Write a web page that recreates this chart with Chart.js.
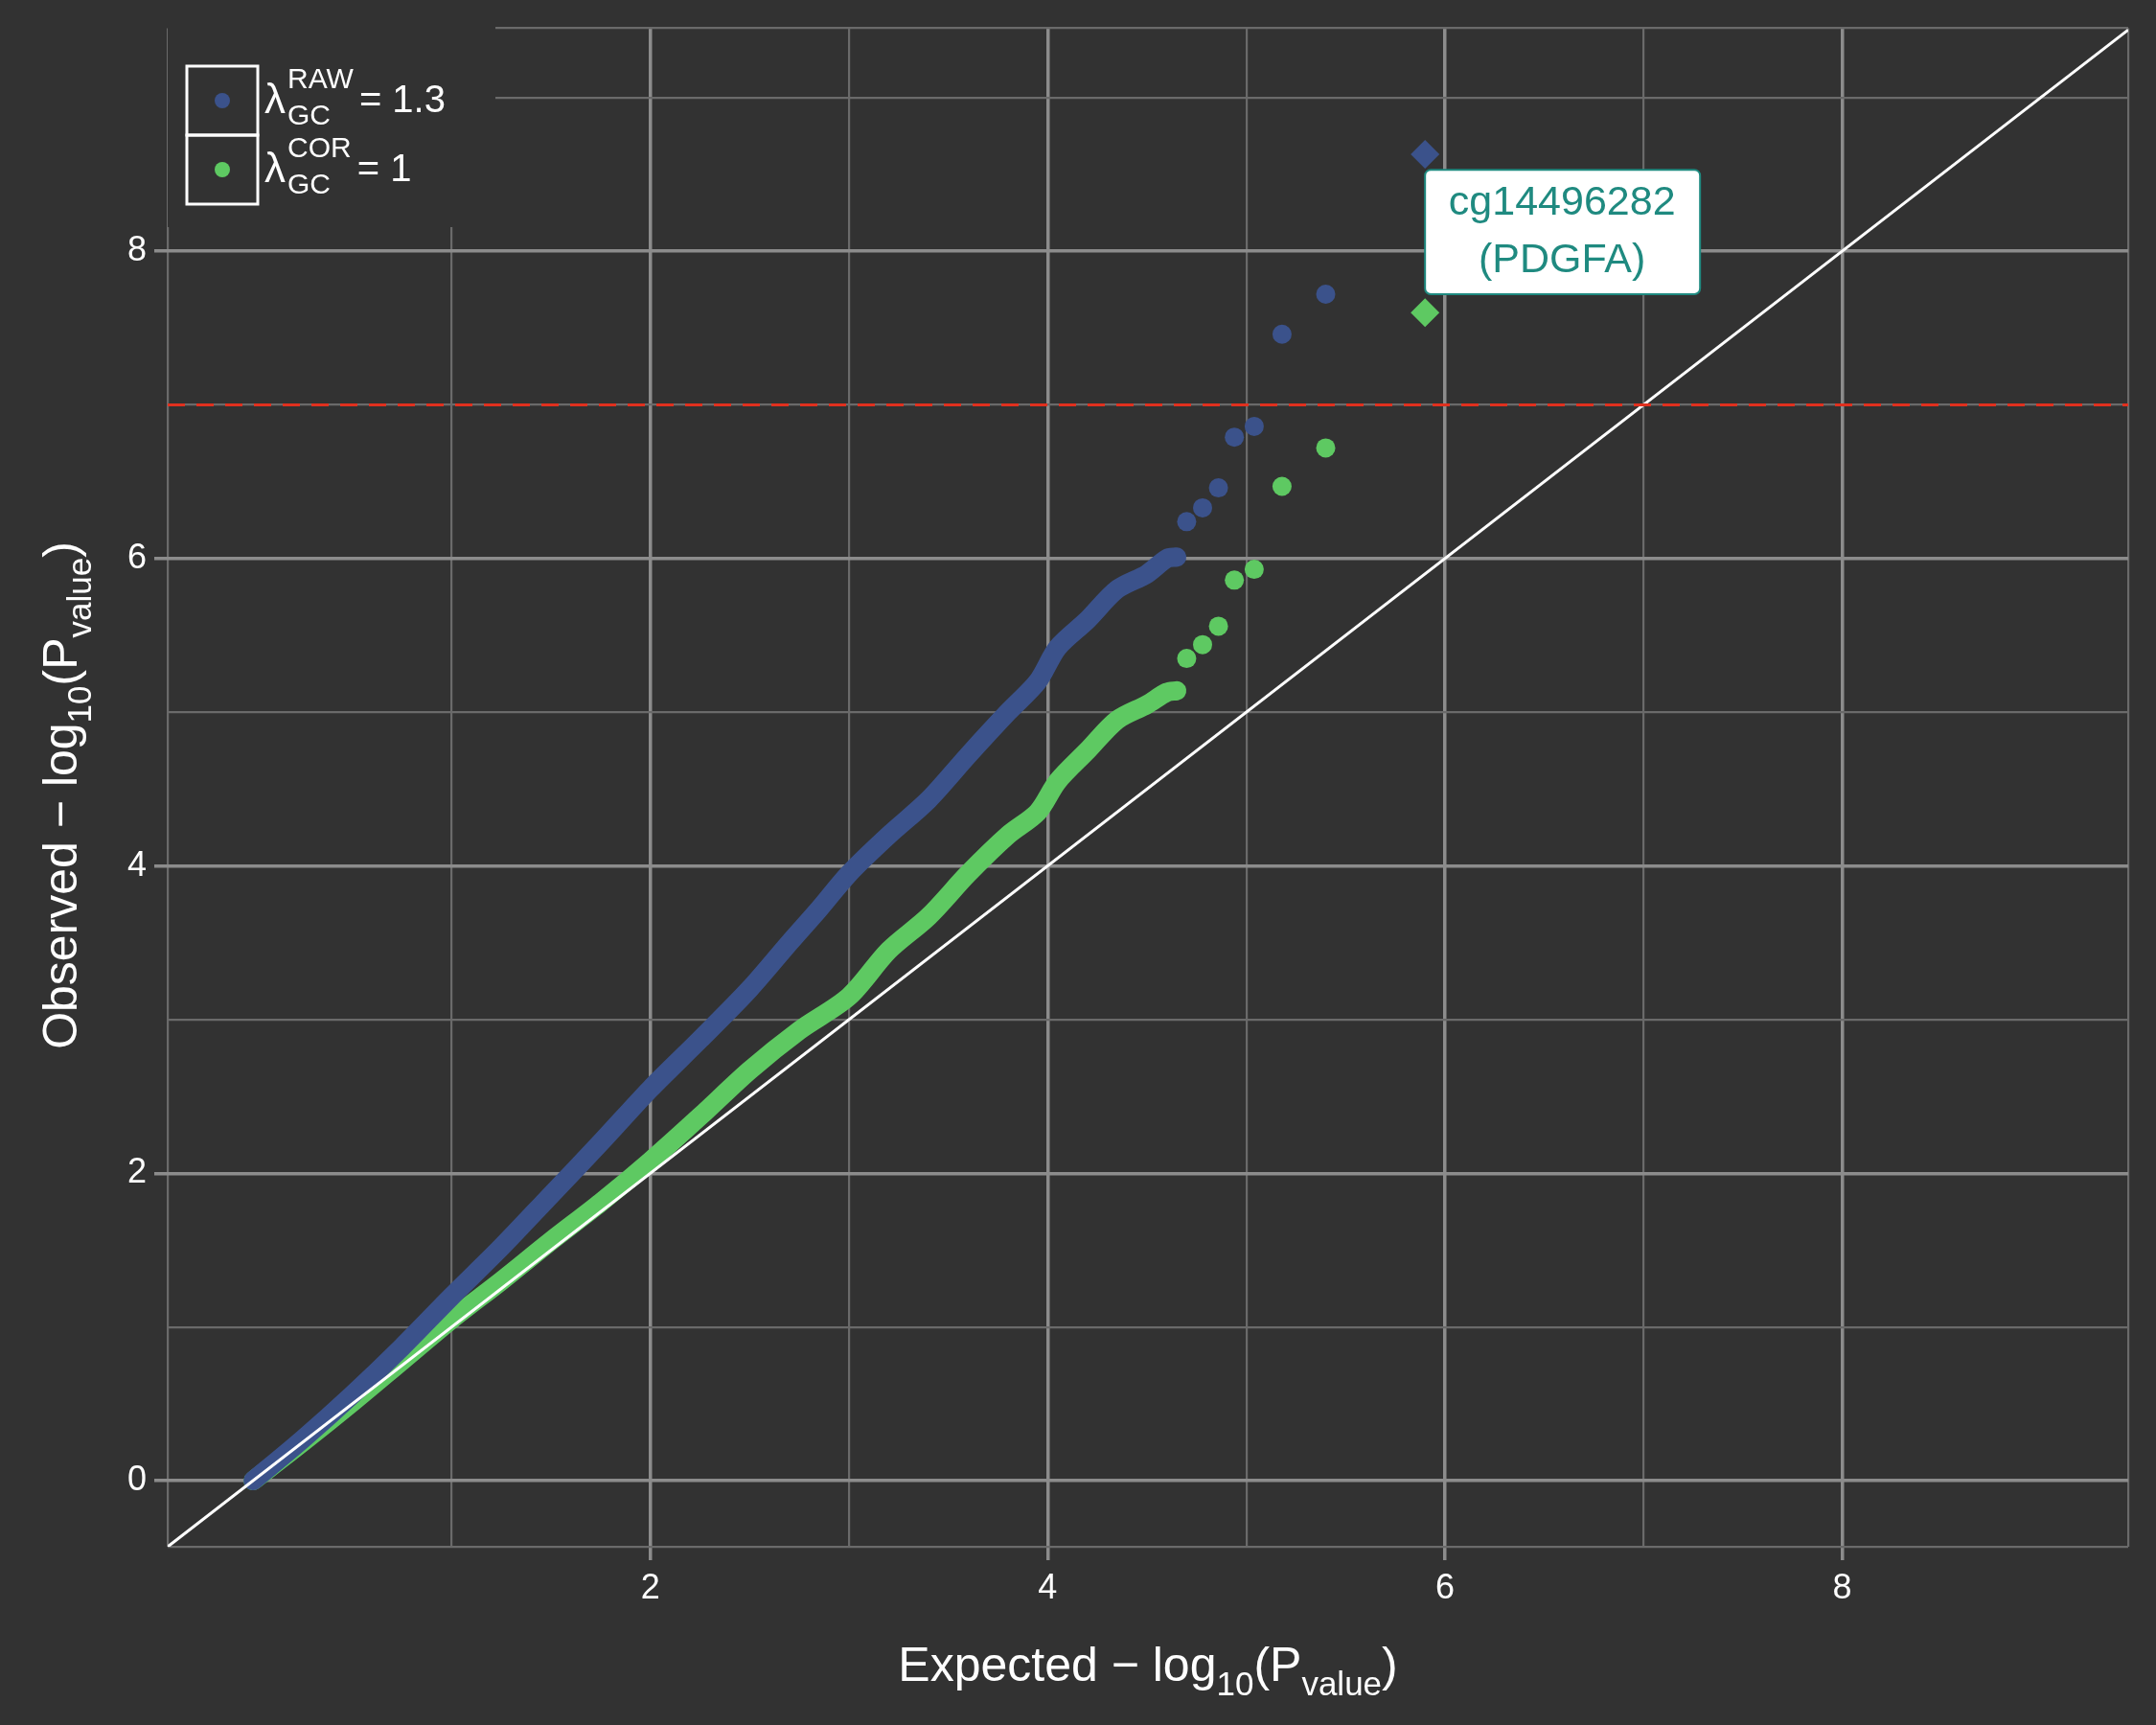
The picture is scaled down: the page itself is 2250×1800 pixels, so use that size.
<!DOCTYPE html>
<html><head><meta charset="utf-8">
<script src="https://cdn.jsdelivr.net/npm/chart.js@4.4.0/dist/chart.umd.min.js"></script>
<style>html,body{margin:0;background:#323232}canvas{display:block}</style>
</head><body>
<div style="width:2250px;height:1800px"><canvas id="c"></canvas></div>
<script>
'use strict';
// dense part of the QQ curves (expected, observed)
const rawDense = [[0,0],[0.25,0.27],[0.5,0.56],[0.75,0.87],[1,1.2],[1.25,1.52],[1.5,1.86],[1.75,2.2],[2,2.55],[2.25,2.87],[2.5,3.2],[2.7,3.5],[2.85,3.72],[3,3.95],[3.2,4.2],[3.4,4.43],[3.6,4.72],[3.8,5.0],[3.95,5.2],[4.05,5.42],[4.2,5.6],[4.35,5.8],[4.5,5.9],[4.6,6.0],[4.65,6.01]];
const corDense = [[0,0],[0.25,0.25],[0.5,0.51],[0.75,0.78],[1,1.05],[1.25,1.3],[1.5,1.56],[1.75,1.81],[2,2.08],[2.25,2.37],[2.5,2.67],[2.75,2.93],[3,3.15],[3.2,3.45],[3.4,3.67],[3.6,3.95],[3.8,4.2],[3.95,4.35],[4.05,4.55],[4.2,4.75],[4.35,4.95],[4.5,5.05],[4.6,5.13],[4.65,5.14]];
const rawTail = [[4.7,6.24],[4.78,6.33],[4.86,6.46],[4.94,6.79],[5.04,6.86],[5.18,7.46],[5.4,7.72]];
const corTail = [[4.7,5.35],[4.78,5.44],[4.86,5.56],[4.94,5.86],[5.04,5.93],[5.18,6.47],[5.4,6.72]];
const rawTop = [[5.9,8.63]];
const corTop = [[5.9,7.6]];
const xRange = [-0.43, 9.44];
const yRange = [-0.43, 9.45];
const sigLine = 7;
const probeLabel = ['cg14496282', '(PDGFA)'];

const BLUE = '#3b528b', GREEN = '#5ec962', FONT = '"Liberation Sans", Arial, sans-serif';
const pts = a => a.map(p => ({x: p[0], y: p[1]}));

// draw text parts: [text, 'n'|'sub'|'sup']
function rich(ctx, parts, x, y, size, align) {
  const w = parts.map(p => { ctx.font = (p[1] === 'n' ? size : size * 0.7) + 'px ' + FONT; return ctx.measureText(p[0]).width; });
  const total = w.reduce((a, b) => a + b, 0);
  let cx = align === 'center' ? x - total / 2 : x;
  parts.forEach((p, i) => {
    ctx.font = (p[1] === 'n' ? size : size * 0.7) + 'px ' + FONT;
    const dy = p[1] === 'sub' ? size * 0.3 : p[1] === 'sup' ? -size * 0.45 : 0;
    ctx.fillText(p[0], cx, y + dy);
    cx += w[i];
  });
}

const deco = {
  id: 'deco',
  beforeDatasetsDraw(chart) {
    const ctx = chart.ctx;
    ctx.save();
    ctx.fillStyle = '#323232';
    ctx.fillRect(175, 20, 342, 217);
    ctx.restore();
  },
  afterDraw(chart) {
    const ctx = chart.ctx, xs = chart.scales.x, ys = chart.scales.y;
    ctx.save();
    // legend
    ctx.strokeStyle = '#fff'; ctx.lineWidth = 3;
    [[195, 69], [195, 141]].forEach((b, i) => {
      ctx.strokeRect(b[0], b[1], 74, 72);
      ctx.fillStyle = i ? GREEN : BLUE;
      ctx.beginPath(); ctx.arc(b[0] + 37, b[1] + 36, 8, 0, Math.PI * 2); ctx.fill();
    });
    ctx.fillStyle = '#fff'; ctx.textBaseline = 'middle'; ctx.textAlign = 'left';
    function lam(y, sup, val) {
      ctx.font = '44px ' + FONT; ctx.fillText('λ', 276, y);
      ctx.font = '30px ' + FONT; ctx.fillText(sup, 300, y - 22); ctx.fillText('GC', 300, y + 16);
      const sw = ctx.measureText(sup).width;
      ctx.font = '40px ' + FONT; ctx.fillText(val, 306 + Math.max(sw, 40), y);
    }
    lam(106, 'RAW', '= 1.3');
    lam(178, 'COR', '= 1');
    // axis titles
    ctx.textBaseline = 'alphabetic';
    rich(ctx, [['Expected \u2212 log', 'n'], ['10', 'sub'], ['(P', 'n'], ['value', 'sub'], [')', 'n']], 1198, 1754, 50, 'center');
    ctx.save(); ctx.translate(80, 830); ctx.rotate(-Math.PI / 2);
    rich(ctx, [['Observed \u2212 log', 'n'], ['10', 'sub'], ['(P', 'n'], ['value', 'sub'], [')', 'n']], 0, 0, 50, 'center');
    ctx.restore();
    // probe label
    const lx = xs.getPixelForValue(5.9), ty = ys.getPixelForValue(8.53), by = ys.getPixelForValue(7.72);
    ctx.fillStyle = '#fff'; ctx.strokeStyle = '#1f8a80'; ctx.lineWidth = 2;
    ctx.beginPath(); ctx.roundRect(lx, ty, 287, by - ty, 6); ctx.fill(); ctx.stroke();
    ctx.fillStyle = '#1f8a80'; ctx.font = '43px ' + FONT; ctx.textAlign = 'center'; ctx.textBaseline = 'middle';
    ctx.fillText(probeLabel[0], lx + 143, ty + (by - ty) * 0.27);
    ctx.fillText(probeLabel[1], lx + 143, ty + (by - ty) * 0.73);
    ctx.restore();
  }
};

const gridOpts = {
  color: c => (c.tick && c.tick.value % 2 === 0) ? '#8c8c8c' : '#6a6a6a',
  lineWidth: c => (c.tick && c.tick.value % 2 === 0) ? 3.5 : 2.2,
  tickColor: c => (c.tick && c.tick.value % 2 === 0) ? '#8c8c8c' : 'rgba(0,0,0,0)',
  tickLength: 14, drawOnChartArea: true, z: -1
};
const tickOpts = {stepSize: 1, color: '#fff', font: {family: FONT, size: 36},
  callback: v => (v % 2 === 0 ? String(v) : ''), autoSkip: false, padding: 8};

new Chart(document.getElementById('c'), {
  type: 'scatter',
  data: {datasets: [
    {data: pts([[xRange[0], sigLine], [xRange[1], sigLine]]), showLine: true, borderColor: '#e0301e', borderWidth: 3, borderDash: [18, 12], pointRadius: 0},
    {data: pts([[xRange[0], xRange[0]], [xRange[1], xRange[1]]]), showLine: true, borderColor: '#fff', borderWidth: 3, pointRadius: 0},
    {data: pts(rawDense), showLine: true, borderColor: BLUE, borderWidth: 20, borderCapStyle: 'round', pointRadius: 0, tension: 0.3},
    {data: pts(corDense), showLine: true, borderColor: GREEN, borderWidth: 20, borderCapStyle: 'round', pointRadius: 0, tension: 0.3},
    {data: pts(rawTail), backgroundColor: BLUE, borderWidth: 0, pointRadius: 10},
    {data: pts(corTail), backgroundColor: GREEN, borderWidth: 0, pointRadius: 10},
    {data: pts(rawTop), backgroundColor: BLUE, borderWidth: 0, pointRadius: 15, pointStyle: 'rectRot'},
    {data: pts(corTop), backgroundColor: GREEN, borderWidth: 0, pointRadius: 15, pointStyle: 'rectRot'}
  ]},
  options: {
    responsive: true, maintainAspectRatio: false, animation: false,
    layout: {padding: {top: 29, right: 29, left: 0, bottom: 0}},
    plugins: {legend: {display: false}, tooltip: {enabled: false}},
    scales: {
      x: {type: 'linear', min: xRange[0], max: xRange[1], grid: gridOpts, border: {display: false}, ticks: tickOpts,
          afterFit: s => { s.height = 186; }},
      y: {type: 'linear', min: yRange[0], max: yRange[1], grid: gridOpts, border: {display: false}, ticks: tickOpts,
          afterFit: s => { s.width = 175; }}
    }
  },
  plugins: [{id: 'bg', beforeDraw(c) { c.ctx.fillStyle = '#323232'; c.ctx.fillRect(0, 0, c.width, c.height); }}, deco]
});
</script>
</body></html>
